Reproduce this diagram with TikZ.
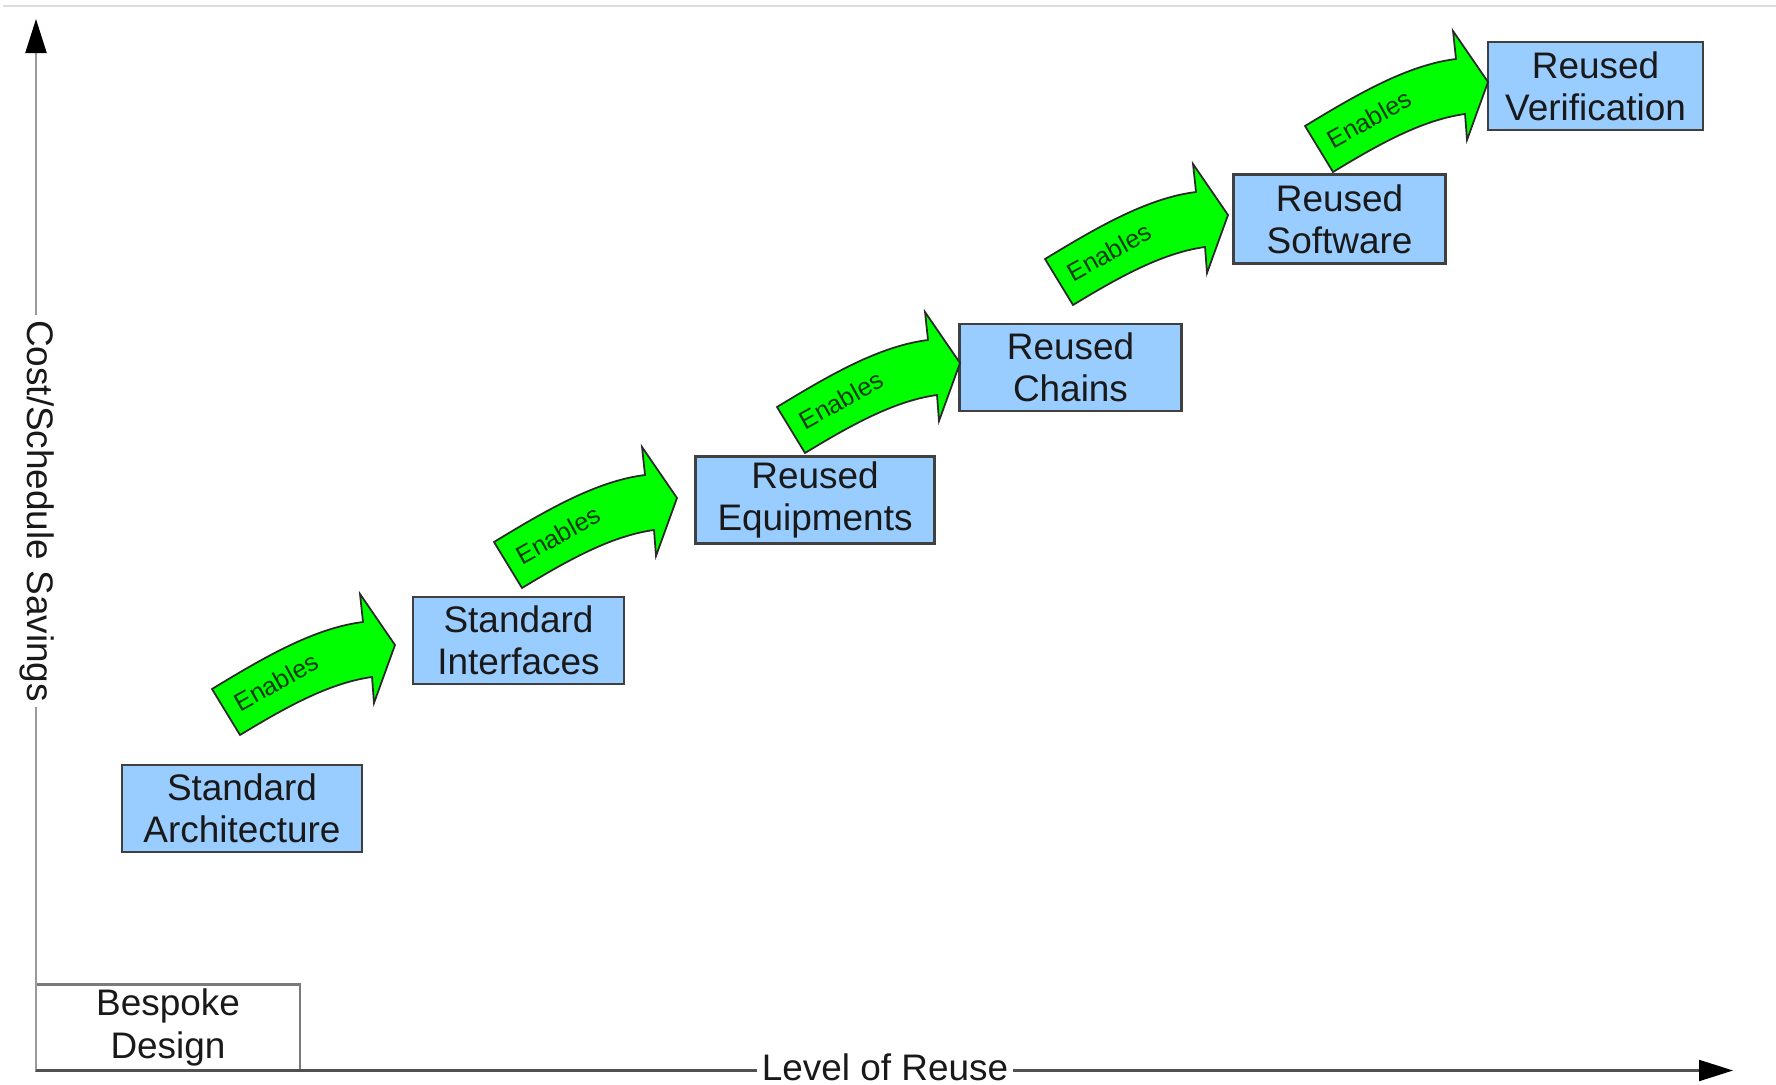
\documentclass[tikz,border=0pt]{standalone}
\usepackage{fontspec}
\setmainfont{Liberation Sans}
\usetikzlibrary{arrows.meta}
\definecolor{boxblue}{HTML}{99CCFF}
\definecolor{boxline}{HTML}{404040}
\definecolor{arrowgreen}{HTML}{00FF00}
\definecolor{arrowline}{HTML}{2A2A2A}
\definecolor{labelgreen}{HTML}{0A3A0A}
\definecolor{yaxisgray}{HTML}{9A9A9A}
\definecolor{xaxisgray}{HTML}{505050}
\definecolor{bespokegray}{HTML}{7A7A7A}
\definecolor{rulegray}{HTML}{DCDCDC}
\tikzset{
  stepbox/.style={draw=boxline, fill=boxblue, line width=0.7pt, inner sep=0pt,
    align=center, text=black!90, font=\fontsize{10.5}{12}\selectfont},
  plainbox/.style={draw=bespokegray, line width=0.7pt, inner sep=0pt,
    align=center, text=black!90, font=\fontsize{10.5}{12}\selectfont},
  axislabel/.style={fill=white, inner xsep=1.5pt, inner ysep=0pt, text=black!90,
    font=\fontsize{10.5}{12}\selectfont},
  arrowbody/.style={fill=arrowgreen, draw=arrowline, line width=0.5pt, line join=miter},
  enabtext/.style={text=labelgreen, inner sep=0pt, font=\fontsize{7.2}{8}\selectfont},
  axistip/.style={-{Triangle[length=0.34cm,width=0.21cm,color=black,fill=black]}},
  % curved block arrow; the pic origin is the arrow tip
  enables/.pic={
    \draw[arrowbody] (-183,44) .. controls (-132,13) and (-81,-17) .. (-32,-23)
      -- (-35,-51) -- (0,0) -- (-21,58) -- (-23,32)
      .. controls (-67,38) and (-112,64) .. (-155,90) -- cycle;
    \node[enabtext, rotate=29] at (-119,37) {Enables};
  }
}
\begin{document}
\begin{tikzpicture}[x=0.01cm, y=-0.01cm]
  \useasboundingbox (0,0) rectangle (1776,1085);

  % thin rule along the top edge
  \draw[rulegray, line width=0.6pt] (3,6) -- (1776,6);

  % starting point
  \node[plainbox, minimum width=2.64cm, minimum height=0.86cm] (bd) at (168,1027.5) {Bespoke\\Design};

  % axes
  \coordinate (o) at (36,1070.5);
  \coordinate (ytop) at (36,19);
  \coordinate (xend) at (1733,1070.5);
  \draw[yaxisgray, line width=0.6pt, axistip] (o) -- (ytop);
  \draw[xaxisgray, line width=0.6pt, axistip] (o) -- (xend);
  \node[axislabel, rotate=-90] (ylab) at (37,511) {Cost/Schedule Savings};
  \node[axislabel] (xlab) at (885,1067) {Level of Reuse};

  % reuse levels
  \node[stepbox, minimum width=2.40cm, minimum height=0.87cm] (sa) at (242,808.5) {Standard\\Architecture};
  \node[stepbox, minimum width=2.11cm, minimum height=0.87cm] (si) at (518.5,640.5) {Standard\\Interfaces};
  \node[stepbox, minimum width=2.39cm, minimum height=0.87cm] (re) at (815,500) {Reused\\Equipments};
  \node[stepbox, minimum width=2.22cm, minimum height=0.87cm] (rc) at (1070.5,367.5) {Reused\\Chains};
  \node[stepbox, minimum width=2.12cm, minimum height=0.89cm] (rs) at (1339.5,219) {Reused\\Software};
  \node[stepbox, minimum width=2.15cm, minimum height=0.88cm] (rv) at (1595.5,86) {Reused\\Verification};

  % "Enables" arrows between levels
  \coordinate (t1) at (395,645);
  \coordinate (t2) at (677,498);
  \coordinate (t3) at (960,363);
  \coordinate (t4) at (1228,215);
  \coordinate (t5) at (1488,82);
  \foreach \t in {t1,t2,t3,t4,t5} {
    \pic at (\t) {enables};
  }
\end{tikzpicture}
\end{document}
